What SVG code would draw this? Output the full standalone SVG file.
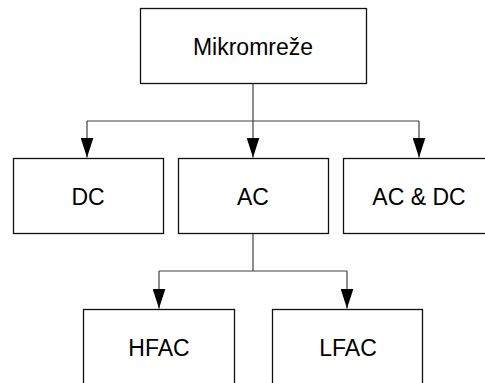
<svg xmlns="http://www.w3.org/2000/svg" width="485" height="383" viewBox="0 0 485 383">
<style>
.box{fill:#fff;stroke:#111;stroke-width:1.3}
.lbl{font-family:"Liberation Sans",Arial,sans-serif;font-size:23px;fill:#000;text-anchor:middle}
.con{fill:none;stroke:#404040;stroke-width:1.2}
</style>
<defs>
<marker id="arr" markerUnits="userSpaceOnUse" markerWidth="20" markerHeight="13" refX="20" refY="6.5" orient="auto" viewBox="0 0 20 13">
<path d="M0,0 L20,6.5 L0,13 z" fill="#000"/>
</marker>
</defs>
<rect width="485" height="383" fill="#fff"/>
<g id="connectors">
<path class="con" d="M253,83.5 V157.5" marker-end="url(#arr)"/>
<path class="con" d="M87,121 H419"/>
<path class="con" d="M87,121 V157.5" marker-end="url(#arr)"/>
<path class="con" d="M419,121 V157.5" marker-end="url(#arr)"/>
<path class="con" d="M253,233.5 V271"/>
<path class="con" d="M159,271 H347"/>
<path class="con" d="M159,271 V308.5" marker-end="url(#arr)"/>
<path class="con" d="M347,271 V308.5" marker-end="url(#arr)"/>
</g>
<g id="mikromreze"><rect class="box" x="140.5" y="8.5" width="226" height="75"/><text class="lbl" x="253" y="55">Mikromreže</text></g>
<g id="dc"><rect class="box" x="13.5" y="158.5" width="150" height="75"/><text class="lbl" x="88" y="205">DC</text></g>
<g id="ac"><rect class="box" x="178.5" y="158.5" width="150" height="75"/><text class="lbl" x="253" y="205">AC</text></g>
<g id="acdc"><rect class="box" x="343.5" y="158.5" width="150" height="75"/><text class="lbl" x="419" y="205">AC &amp; DC</text></g>
<g id="hfac"><rect class="box" x="83.5" y="309.5" width="151" height="100"/><text class="lbl" x="159" y="356">HFAC</text></g>
<g id="lfac"><rect class="box" x="272.5" y="309.5" width="150" height="100"/><text class="lbl" x="348" y="356">LFAC</text></g>
</svg>
